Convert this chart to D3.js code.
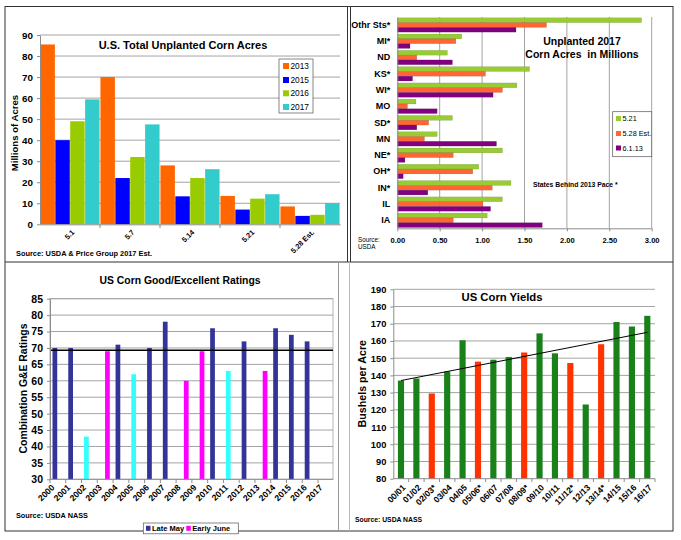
<!DOCTYPE html>
<html><head><meta charset="utf-8">
<script src="https://cdn.jsdelivr.net/npm/d3@7"></script>
<style>body{margin:0;background:#fff}svg{display:block;font-family:"Liberation Sans",Arial,Helvetica,sans-serif}</style>
</head><body><svg id="c" width="681" height="540"></svg>
<script>
// ---------- Panel 1: U.S. Total Unplanted Corn Acres ----------
const plantDates = ["5.1","5.7","5.14","5.21","5.28 Est."];
const plantYears = ["2013","2015","2016","2017"];
const unplanted2013 = [85.5,70,28,13.5,8.5];
const unplanted2015 = [40,22,13.3,7,4];
const unplanted2016 = [49,32,22,12.2,4.5];
const unplanted2017 = [59.4,47.5,26.2,14.3,10.1];
const acresTicks = [0,10,20,30,40,50,60,70,80,90];

// ---------- Panel 2: Unplanted 2017 corn acres by state ----------
const states = ["Othr Sts*","MI*","ND","KS*","WI*","MO","SD*","MN","NE*","OH*","IN*","IL","IA"];
const stateSeries = ["5.21","5.28 Est.","6.1.13"];
const state521 = [2.88,0.76,0.59,1.56,1.41,0.22,0.65,0.47,1.24,0.96,1.34,1.24,1.06];
const state528 = [1.76,0.69,0.23,1.04,1.24,0.12,0.37,0.32,0.66,0.89,1.12,1.01,0.66];
const state6113 = [1.40,0.15,0.65,0.18,1.13,0.47,0.23,1.17,0.09,0.07,0.36,1.10,1.71];
const stateTicks = [0,0.5,1,1.5,2,2.5,3];

// ---------- Panel 3: US Corn Good/Excellent Ratings ----------
const ratingYears = ["2000","2001","2002","2003","2004","2005","2006","2007","2008","2009","2010","2011","2012","2013","2014","2015","2016","2017"];
const ratingValues = [70,70,43,69,71,62,70,78,60,69,76,63,72,63,76,74,72,null];
const ratingGroup = ["May","May","MayLow","June","May","MayLow","May","May","June","June","May","MayLow","May","June","May","May","May",null];
const ratingAverage = 69.3;
const ratingTicks = [30,35,40,45,50,55,60,65,70,75,80,85];

// ---------- Panel 4: US Corn Yields ----------
const cropYears = ["00/01","01/02","02/03*","03/04","04/05","05/06*","06/07","07/08","08/09*","09/10","10/11","11/12*","12/13","13/14*","14/15","15/16","16/17"];
const yields = [137,138.2,129.5,142.2,160.4,148,149.1,150.7,153.3,164.4,152.8,147.2,123.1,158.1,171,168.4,174.6];
const yieldTrend = [137,165];
const yieldTicks = [80,90,100,110,120,130,140,150,160,170,180,190];

const svg = d3.select("#c");
const GRID = "#a3a3a3";

function styleAxis(sel, fs, bold){
  sel.select(".domain").attr("stroke","#8c8c8c");
  sel.selectAll(".tick line").attr("stroke","#8c8c8c");
  sel.selectAll(".tick text").attr("fill","#000").attr("font-size",fs).attr("font-weight",bold?"bold":"normal").attr("font-family",null);
}

// ================= Frame =================
const fr = svg.append("g").attr("fill","none");
fr.append("rect").attr("x",5).attr("y",6.5).attr("width",668).attr("height",524.5).attr("stroke","#333").attr("stroke-width",1);
fr.append("line").attr("x1",5).attr("x2",673).attr("y1",262).attr("y2",262).attr("stroke","#333");
fr.append("line").attr("x1",347.5).attr("x2",347.5).attr("y1",6.5).attr("y2",262).attr("stroke","#333");
fr.append("line").attr("x1",350.5).attr("x2",350.5).attr("y1",6.5).attr("y2",262).attr("stroke","#333");
fr.append("line").attr("x1",338.5).attr("x2",338.5).attr("y1",262).attr("y2",531).attr("stroke","#999");
fr.append("line").attr("x1",349.5).attr("x2",349.5).attr("y1",262).attr("y2",531).attr("stroke","#bbb");

// ================= Panel 1 =================
{
  const g = svg.append("g");
  const x = d3.scaleBand(plantDates,[40,340]);
  const xs = d3.scaleBand(plantYears,[0,x.bandwidth()]).paddingInner(0.03).paddingOuter(0.03);
  const y = d3.scaleLinear([0,90],[224.3,35]);
  const colors = d3.scaleOrdinal(plantYears,["#ff6600","#0000ff","#99cc00","#33cccc"]);
  const series = [unplanted2013,unplanted2015,unplanted2016,unplanted2017];
  g.selectAll(".grid").data(acresTicks.slice(1)).join("line")
    .attr("x1",40).attr("x2",340).attr("y1",d=>y(d)).attr("y2",d=>y(d)).attr("stroke",GRID);
  series.forEach((vals,i)=>{
    g.selectAll(".b"+i).data(vals).join("rect")
      .attr("x",(d,j)=>x(plantDates[j])+xs(plantYears[i]))
      .attr("width",xs.bandwidth())
      .attr("y",d=>y(d)).attr("height",d=>y(0)-y(d))
      .attr("fill",colors(plantYears[i]));
  });
  const ya = g.append("g").attr("transform","translate(40,0)")
    .call(d3.axisLeft(y).tickValues(acresTicks).tickSize(3).tickPadding(4).tickSizeOuter(0));
  styleAxis(ya,"9.8px",true);
  const xa = g.append("g").attr("transform","translate(0,224.3)")
    .call(d3.axisBottom(x).tickSize(0).tickFormat(""));
  styleAxis(xa,"8px",true);
  g.selectAll(".bt").data(plantDates.slice(1)).join("line")
    .attr("x1",d=>x(d)).attr("x2",d=>x(d)).attr("y1",224.3).attr("y2",228).attr("stroke","#8c8c8c");
  g.selectAll(".xl").data(plantDates).join("text")
    .attr("transform",d=>`translate(${x(d)+x.bandwidth()/2+3},231) rotate(-45)`)
    .attr("text-anchor","end").attr("dy","0.35em")
    .attr("font-size","7.3px").attr("font-weight","bold").text(d=>d);
  g.append("text").attr("x",183).attr("y",48.5).attr("text-anchor","middle")
    .attr("font-size","11px").attr("font-weight","bold").text("U.S. Total Unplanted Corn Acres");
  g.append("text").attr("transform","translate(15,133) rotate(-90)").attr("text-anchor","middle")
    .attr("dy","0.35em").attr("font-size","9.6px").attr("font-weight","bold").text("Millions of Acres");
  g.append("text").attr("x",16).attr("y",256).attr("font-size","7.4px").attr("font-weight","bold")
    .text("Source:  USDA & Price Group 2017 Est.");
  const lg = g.append("g");
  lg.append("rect").attr("x",279).attr("y",59).attr("width",34).attr("height",54)
    .attr("fill","#fff").attr("stroke","#555").attr("stroke-width",0.7);
  const rows = [66,80,93.3,107];
  plantYears.forEach((yr,i)=>{
    lg.append("rect").attr("x",283).attr("y",rows[i]-3).attr("width",6).attr("height",6).attr("fill",colors(yr));
    lg.append("text").attr("x",290.5).attr("y",rows[i]).attr("dy","0.35em").attr("font-size","8.3px").text(yr);
  });
}

// ================= Panel 2 =================
{
  const g = svg.append("g");
  const x = d3.scaleLinear([0,3],[397.3,651.7]);
  const y = d3.scaleBand(states,[17,228.3]).paddingInner(0.12).paddingOuter(0.05);
  const ys = d3.scaleBand(stateSeries,[0,y.bandwidth()]);
  const colors = d3.scaleOrdinal(stateSeries,["#99cc33","#ff6633","#800080"]);
  const series = [state521,state528,state6113];
  g.selectAll(".grid").data(stateTicks.slice(1)).join("line")
    .attr("x1",d=>x(d)).attr("x2",d=>x(d)).attr("y1",17).attr("y2",228.3).attr("stroke",GRID);
  series.forEach((vals,i)=>{
    g.selectAll(".b"+i).data(vals).join("rect")
      .attr("y",(d,j)=>y(states[j])+ys(stateSeries[i]))
      .attr("height",ys.bandwidth())
      .attr("x",x(0)).attr("width",d=>x(d)-x(0))
      .attr("fill",colors(stateSeries[i]))
      .attr("stroke","rgba(0,0,0,0.25)").attr("stroke-width",0.4);
  });
  const ya = g.append("g").attr("transform",`translate(${x(0)},0)`)
    .call(d3.axisLeft(y).tickSize(0).tickPadding(7));
  styleAxis(ya,"9px",true);
  const xa = g.append("g").attr("transform","translate(0,228.3)")
    .call(d3.axisBottom(x).tickValues(stateTicks).tickFormat(d3.format(".2f")).tickSize(3).tickPadding(6).tickSizeOuter(0));
  styleAxis(xa,"7.6px",true);
  g.append("text").attr("x",582).attr("y",44.5).attr("text-anchor","middle")
    .attr("font-size","10.5px").attr("font-weight","bold").text("Unplanted 2017");
  g.append("text").attr("x",582).attr("y",58).attr("text-anchor","middle")
    .attr("font-size","10.5px").attr("font-weight","bold").attr("xml:space","preserve").text("Corn Acres  in Millions");
  g.append("text").attr("x",533).attr("y",186.5).attr("font-size","6.8px").attr("font-weight","bold")
    .text("States Behind 2013 Pace *");
  g.append("text").attr("x",358).attr("y",241.5).attr("font-size","6.3px").text("Source:");
  g.append("text").attr("x",358).attr("y",249).attr("font-size","6.3px").text("USDA");
  const lg = g.append("g");
  lg.append("rect").attr("x",612.7).attr("y",111.7).attr("width",39).attr("height",45)
    .attr("fill","#fff").attr("stroke","#555").attr("stroke-width",0.7);
  const rows = [118.5,133.5,148];
  stateSeries.forEach((s,i)=>{
    lg.append("rect").attr("x",616).attr("y",rows[i]-2.5).attr("width",5).attr("height",5).attr("fill",colors(s));
    lg.append("text").attr("x",622.5).attr("y",rows[i]).attr("dy","0.35em").attr("font-size","7.3px").text(s);
  });
}

// ================= Panel 3 =================
{
  const g = svg.append("g");
  const x = d3.scalePoint(ratingYears,[50,318]);
  const slot = d3.scaleBand(["Late May","Early June"],[2.5,12.5]).paddingInner(0.1);
  const y = d3.scaleLinear([30,85],[479.3,298.7]);
  const colorOf = {May:"#333399", MayLow:"#33ffff", June:"#ff00ff"};
  const slotOf = {May:"Late May", MayLow:"Late May", June:"Early June"};
  g.append("rect").attr("x",50).attr("y",298.7).attr("width",283).attr("height",180.6)
    .attr("fill","none").attr("stroke","#b5b5b5");
  g.selectAll(".grid").data(ratingTicks.slice(1)).join("line")
    .attr("x1",50).attr("x2",333).attr("y1",d=>y(d)).attr("y2",d=>y(d)).attr("stroke",GRID);
  const data = ratingYears.map((yr,i)=>({yr,v:ratingValues[i],grp:ratingGroup[i]})).filter(d=>d.v!=null);
  g.selectAll(".bar").data(data).join("rect")
    .attr("x",d=>x(d.yr)+slot(slotOf[d.grp]))
    .attr("width",slot.bandwidth())
    .attr("y",d=>y(d.v)).attr("height",d=>y(30)-y(d.v))
    .attr("fill",d=>colorOf[d.grp]);
  g.append("line").attr("x1",50).attr("x2",333).attr("y1",y(ratingAverage)).attr("y2",y(ratingAverage))
    .attr("stroke","#000").attr("stroke-width",1.3);
  const ya = g.append("g").attr("transform","translate(50,0)")
    .call(d3.axisLeft(y).tickValues(ratingTicks).tickSize(3).tickPadding(4).tickSizeOuter(0));
  styleAxis(ya,"10.5px",true);
  g.append("line").attr("x1",50).attr("x2",333).attr("y1",479.3).attr("y2",479.3).attr("stroke","#8c8c8c");
  g.selectAll(".xt").data(ratingYears).join("line")
    .attr("x1",d=>x(d)).attr("x2",d=>x(d)).attr("y1",479.3).attr("y2",483).attr("stroke","#8c8c8c");
  g.selectAll(".xl").data(ratingYears).join("text")
    .attr("transform",d=>`translate(${x(d)+3},486) rotate(-45)`)
    .attr("text-anchor","end").attr("dy","0.35em")
    .attr("font-size","8.6px").attr("font-weight","bold").text(d=>d);
  g.append("text").attr("x",180).attr("y",284).attr("text-anchor","middle")
    .attr("font-size","10.4px").attr("font-weight","bold").text("US Corn Good/Excellent Ratings");
  g.append("text").attr("transform","translate(23.3,388.5) rotate(-90)").attr("text-anchor","middle")
    .attr("dy","0.35em").attr("font-size","10.4px").attr("font-weight","bold").text("Combination G&E Ratings");
  g.append("text").attr("x",16).attr("y",518).attr("font-size","7.3px").attr("font-weight","bold")
    .text("Source: USDA NASS");
  const lg = g.append("g");
  lg.append("rect").attr("x",143.3).attr("y",523).attr("width",95).attr("height",10.8)
    .attr("fill","#fff").attr("stroke","#555").attr("stroke-width",0.7);
  [["Late May","#333399",146],["Early June","#ff00ff",186.3]].forEach(([t,c,lx])=>{
    lg.append("rect").attr("x",lx).attr("y",525.8).attr("width",4.5).attr("height",5).attr("fill",c);
    lg.append("text").attr("x",lx+6).attr("y",528.4).attr("dy","0.35em").attr("font-size","7.5px")
      .attr("font-weight","bold").text(t);
  });
}

// ================= Panel 4 =================
{
  const g = svg.append("g");
  const x = d3.scaleBand(cropYears,[393.3,655]).paddingInner(0.6).paddingOuter(0.3);
  const xb = d3.scaleBand(cropYears,[393.3,655]);
  const y = d3.scaleLinear([80,190],[478.7,289.3]);
  g.selectAll(".grid").data(yieldTicks.slice(1)).join("line")
    .attr("x1",393.3).attr("x2",655).attr("y1",d=>y(d)).attr("y2",d=>y(d)).attr("stroke",GRID);
  g.selectAll(".bar").data(cropYears).join("rect")
    .attr("x",d=>x(d)).attr("width",x.bandwidth())
    .attr("y",(d,i)=>y(yields[i])).attr("height",(d,i)=>y(80)-y(yields[i]))
    .attr("fill",d=>d.includes("*")?"#ff3300":"#1a801a");
  const c0 = xb(cropYears[0])+xb.bandwidth()/2, c1 = xb(cropYears[cropYears.length-1])+xb.bandwidth()/2;
  g.append("line").attr("x1",c0).attr("x2",c1).attr("y1",y(yieldTrend[0])).attr("y2",y(yieldTrend[1]))
    .attr("stroke","#000").attr("stroke-width",1);
  const ya = g.append("g").attr("transform","translate(393.3,0)")
    .call(d3.axisLeft(y).tickValues(yieldTicks).tickSize(3).tickPadding(4).tickSizeOuter(0));
  styleAxis(ya,"9.3px",true);
  g.append("line").attr("x1",393.3).attr("x2",655).attr("y1",478.7).attr("y2",478.7).attr("stroke","#8c8c8c");
  g.selectAll(".xt").data(cropYears.slice(1).concat(["end"])).join("line")
    .attr("x1",(d,i)=>xb.range()[0]+xb.step()*(i+1)).attr("x2",(d,i)=>xb.range()[0]+xb.step()*(i+1))
    .attr("y1",478.7).attr("y2",482).attr("stroke","#8c8c8c");
  g.selectAll(".xl").data(cropYears).join("text")
    .attr("transform",d=>`translate(${xb(d)+xb.bandwidth()/2+3},486) rotate(-45)`)
    .attr("text-anchor","end").attr("dy","0.35em")
    .attr("font-size","8.6px").attr("font-weight","bold").text(d=>d);
  g.append("text").attr("x",502).attr("y",301).attr("text-anchor","middle")
    .attr("font-size","11.3px").attr("font-weight","bold").text("US Corn Yields");
  g.append("text").attr("transform","translate(362.7,383.7) rotate(-90)").attr("text-anchor","middle")
    .attr("dy","0.35em").attr("font-size","10.7px").attr("font-weight","bold").text("Bushels per Acre");
  g.append("text").attr("x",355).attr("y",522).attr("font-size","6.8px").attr("font-weight","bold")
    .text("Source: USDA NASS");
}
</script></body></html>
